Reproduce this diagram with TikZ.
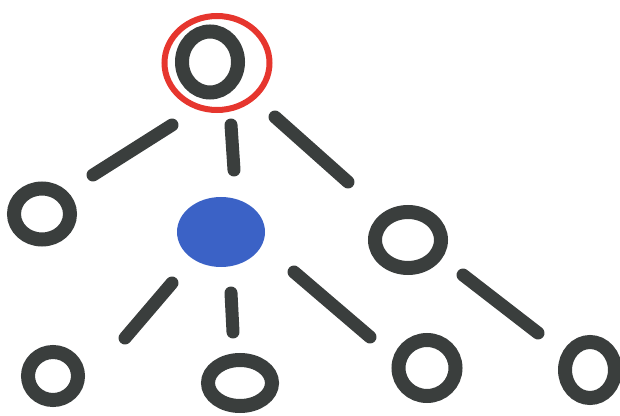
\documentclass[tikz,border=0pt]{standalone}
\usepackage{tikz}
\usetikzlibrary{positioning, calc, shapes.geometric}
\usepackage{xcolor}
\definecolor{ink}{HTML}{3A3E3D}
\definecolor{pen}{HTML}{3B62C6}
\definecolor{mark}{HTML}{E6362E}

\begin{document}
\begin{tikzpicture}[x=1pt, y=1pt,
    ring/.style={ellipse, draw=ink, line width=14pt, inner sep=0pt},
    stroke/.style={draw=ink, line width=13pt, line cap=round}]
        \useasboundingbox (0,0) rectangle (620,415);

        % Top vertex and its red mark
        \node[ellipse, draw=mark, line width=6pt, minimum width=105pt, minimum height=94pt] (sel) at (217,352) {};
        \node[ring, minimum width=56pt, minimum height=61pt] (root) at (210,353) {};

        % Middle row
        \node[ring, minimum width=56pt, minimum height=51pt] (left) at (42,201) {};
        \node[ellipse, fill=pen, minimum width=88pt, minimum height=70pt] (blue) at (221,183) {};
        \node[ring, minimum width=66pt, minimum height=56pt] (right) at (408,175) {};

        % Bottom row
        \node[ring, minimum width=50pt, minimum height=48pt] (b1) at (53,39) {};
        \node[ring, minimum width=64pt, minimum height=46pt] (b2) at (240,32) {};
        \node[ring, minimum width=57pt, minimum height=56pt] (b3) at (427,47) {};
        \node[ring, minimum width=50pt, minimum height=56pt] (b4) at (590,45) {};

        % Edges from the top
        \draw[stroke] ($(root)+(-38,-63)$) -- ($(left)+(51,39)$);
        \draw[stroke] ($(root)+(21,-63)$) -- ($(blue)+(13,62)$);
        \draw[stroke] ($(root)+(65,-55)$) -- ($(right)+(-60,58)$);

        % Edges to the bottom
        \draw[stroke] ($(blue)+(-49,-51)$) -- ($(b1)+(72,38)$);
        \draw[stroke] ($(blue)+(10,-61)$) -- ($(b2)+(-7,51)$);
        \draw[stroke] ($(blue)+(73,-40)$) -- ($(b3)+(-57,31)$);
        \draw[stroke] ($(right)+(55,-35)$) -- ($(b4)+(-52,37)$);
    \end{tikzpicture}
\end{document}
